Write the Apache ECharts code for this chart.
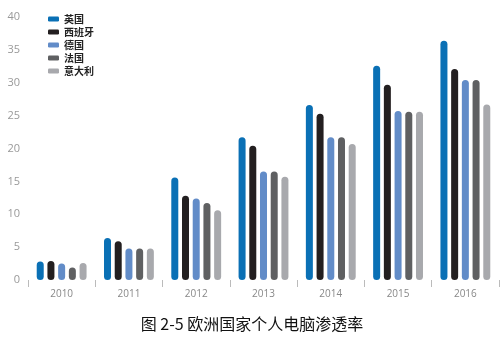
<!DOCTYPE html>
<html><head><meta charset="utf-8">
<script src="https://cdn.jsdelivr.net/npm/echarts@6/dist/echarts.min.js"></script>
<style>html,body{margin:0;padding:0;background:#fff}#c{width:504px;height:338px}</style>
</head><body><div id="c"></div>
<script>
var years = ['2010','2011','2012','2013','2014','2015','2016'];
var seriesNames = ['英国','西班牙','德国','法国','意大利'];
var uk      = [2.8, 6.4, 15.6, 21.7, 26.6, 32.6, 36.4];
var spain   = [2.9, 5.9, 12.8, 20.4, 25.3, 29.7, 32.1];
var germany = [2.5, 4.8, 12.4, 16.5, 21.7, 25.7, 30.4];
var france  = [1.9, 4.8, 11.7, 16.5, 21.7, 25.6, 30.4];
var italy   = [2.6, 4.8, 10.6, 15.7, 20.7, 25.6, 26.7];
var yTicks  = [0, 5, 10, 15, 20, 25, 30, 35, 40];
var colors = ['#0a70b5', '#231f20', '#628cc8', '#5f6062', '#a8a9ad'];
var values = [uk, spain, germany, france, italy];
var title = '图 2-5 欧洲国家个人电脑渗透率';

var chart = echarts.init(document.getElementById('c'));
chart.setOption({
  animation: false,
  color: colors,
  textStyle: {fontFamily: 'Open Sans, Noto Sans CJK SC, sans-serif'},
  title: {
    text: title, left: 'center', top: 311,
    textStyle: {fontSize: 16, fontWeight: 'normal', color: '#111', fontFamily: 'Noto Sans CJK SC'}
  },
  legend: {
    orient: 'vertical', left: 43, top: 8,
    itemWidth: 11, itemHeight: 5, itemGap: 1, icon: 'roundRect',
    textStyle: {fontSize: 10, color: '#222', lineHeight: 12, fontFamily: 'Noto Sans CJK SC', fontWeight: 'bold'},
    data: seriesNames
  },
  grid: {left: 28, right: 5, top: 17, bottom: 58},
  xAxis: {
    type: 'category', data: years, offset: 9,
    axisLine: {show: false},
    axisTick: {show: true, length: 7, lineStyle: {color: '#bbb'}},
    axisLabel: {margin: 0, fontSize: 10, color: '#888'}
  },
  yAxis: {
    type: 'value', min: yTicks[0], max: yTicks[yTicks.length - 1], interval: 5,
    splitLine: {show: false}, axisLine: {show: false}, axisTick: {show: false},
    axisLabel: {fontSize: 11, color: '#999', margin: 8}
  },
  series: seriesNames.map(function (n, i) {
    return {
      name: n, type: 'bar', data: values[i],
      barWidth: 7, barGap: '53%',
      itemStyle: {color: colors[i], borderRadius: 3.5}
    };
  })
});
</script></body></html>
